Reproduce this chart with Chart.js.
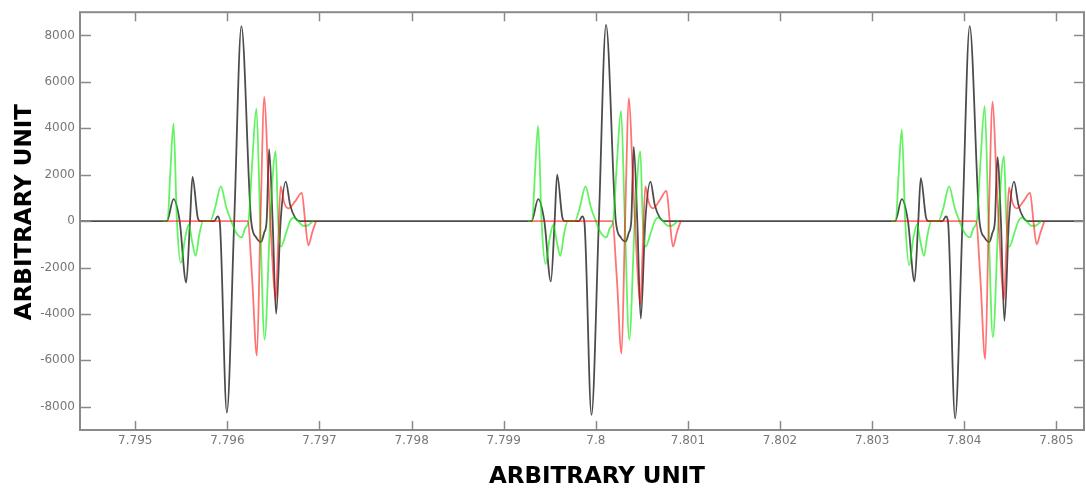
<!DOCTYPE html>
<html>
<head>
<meta charset="utf-8">
<script src="https://cdn.jsdelivr.net/npm/chart.js@4.4.1/dist/chart.umd.min.js"></script>
<style>
  html, body { margin: 0; padding: 0; background: #fff; }
</style>
</head>
<body>
<canvas id="signal" width="1086" height="488"></canvas>
<script>
// x range and ticks
const xMin = 7.7944;
const xMax = 7.8053;
const xTickValues = [7.795, 7.796, 7.797, 7.798, 7.799, 7.8, 7.801, 7.802, 7.803, 7.804, 7.805];
const xTickLabels = ['7.795', '7.796', '7.797', '7.798', '7.799', '7.8', '7.801', '7.802', '7.803', '7.804', '7.805'];
const yTickValues = [-8000, -6000, -4000, -2000, 0, 2000, 4000, 6000, 8000];
const yTickLabels = ['-8000', '-6000', '-4000', '-2000', '0', '2000', '4000', '6000', '8000'];
const axisTitle = 'ARBITRARY UNIT';

// where each burst begins on the x axis
const burstStarts = [7.7952712, 7.7992300, 7.8031779];

// black trace: sample offsets inside a burst (units of 1e-6) and values per burst
const blackTimes = [0, 73, 144, 211, 282, 323, 350, 407, 434, 586, 622, 645, 723, 803, 881, 987, 1041, 1095, 1128, 1155, 1182, 1220, 1258, 1307, 1363, 1410, 1464, 1518];
const blackBurst1 = [0, 0, 950, 0, -2650, 0, 1900, 150, 0, 0, 200, 0, -8250, 0, 8400, 0, -700, -900, -500, 0, 3100, 0, -4000, 0, 1700, 700, 150, 0];
const blackBurst2 = [0, 0, 950, 0, -2600, 0, 2000, 150, 0, 0, 200, 0, -8350, 0, 8450, 0, -700, -880, -500, 0, 3200, 0, -4200, 0, 1700, 700, 150, 0];
const blackBurst3 = [0, 0, 950, 0, -2600, 0, 1850, 150, 0, 0, 200, 0, -8500, 0, 8400, 0, -700, -900, -500, 0, 2750, 0, -4300, 0, 1700, 700, 150, 0];

// green trace
const greenTimes = [33, 79, 108, 144, 181, 224, 271, 309, 347, 385, 423, 466, 542, 597, 658, 716, 770, 824, 886, 922, 958, 998, 1044, 1085, 1133, 1193, 1253, 1280, 1312, 1367, 1410, 1446, 1497, 1551, 1594, 1659];
const greenBurst1 = [0, 0, 2000, 4200, 0, -1800, -700, -150, -900, -1500, -600, 0, 0, 600, 1500, 600, 0, -500, -700, -300, 0, 2500, 4850, 0, -5100, 0, 3000, 0, -1100, -500, 0, 150, 0, -200, -200, 0];
const greenBurst2 = [0, 0, 1950, 4100, 0, -1850, -700, -150, -900, -1500, -600, 0, 0, 600, 1500, 600, 0, -500, -700, -300, 0, 2450, 4750, 0, -5100, 0, 3000, 0, -1100, -500, 0, 150, 0, -200, -200, 0];
const greenBurst3 = [0, 0, 1900, 3950, 0, -1900, -700, -150, -900, -1500, -600, 0, 0, 600, 1500, 600, 0, -500, -700, -300, 0, 2550, 4950, 0, -5000, 0, 2800, 0, -1100, -500, 0, 150, 0, -200, -200, 0];

// red trace
const redTimes = [54, 949, 998, 1049, 1088, 1130, 1171, 1215, 1253, 1280, 1307, 1345, 1392, 1464, 1537, 1573, 1608, 1649, 1692];
const redBurst1 = [0, 0, -2500, -5800, 0, 5350, 2000, -1500, -3400, -1000, 1500, 800, 550, 850, 1220, 0, -1050, -500, 0];
const redBurst2 = [0, 0, -2450, -5700, 0, 5300, 2000, -1600, -3600, -1100, 1500, 800, 550, 900, 1300, 0, -1100, -500, 0];
const redBurst3 = [0, 0, -2550, -5950, 0, 5150, 1900, -1500, -3400, -1000, 1450, 800, 550, 850, 1220, 0, -1000, -500, 0];

// turn offsets + values into {x, y}; a null point between bursts breaks the line
function burstPoints(times, bursts, breakBetween) {
  const pts = [];
  bursts.forEach((vals, b) => {
    times.forEach((t, i) => pts.push({ x: burstStarts[b] + t * 1e-6, y: vals[i] }));
    if (breakBetween) pts.push({ x: burstStarts[b] + times[times.length - 1] * 1e-6 + 1e-6, y: null });
  });
  return pts;
}

const blackPoints = [{ x: xMin, y: 0 }]
  .concat(burstPoints(blackTimes, [blackBurst1, blackBurst2, blackBurst3], false))
  .concat([{ x: xMax, y: 0 }]);
const greenPoints = burstPoints(greenTimes, [greenBurst1, greenBurst2, greenBurst3], true);
const redPoints = burstPoints(redTimes, [redBurst1, redBurst2, redBurst3], true);

// box around the plot with ticks pointing inwards on all four sides,
// plus the two axis titles
const frameTicks = {
  id: 'frameTicks',
  afterDatasetsDraw(chart) {
    const { ctx, chartArea: a, scales: { x, y } } = chart;
    ctx.save();
    ctx.strokeStyle = '#8a8a8a';
    ctx.lineWidth = 2;
    ctx.strokeRect(a.left, a.top, a.right - a.left, a.bottom - a.top);
    ctx.lineWidth = 1.5;
    ctx.beginPath();
    x.ticks.forEach(t => {
      const px = Math.round(x.getPixelForValue(t.value)) + 0.5;
      ctx.moveTo(px, a.bottom); ctx.lineTo(px, a.bottom - 9);
      ctx.moveTo(px, a.top); ctx.lineTo(px, a.top + 9);
    });
    y.ticks.forEach(t => {
      const py = Math.round(y.getPixelForValue(t.value)) + 0.5;
      ctx.moveTo(a.left, py); ctx.lineTo(a.left + 11, py);
      ctx.moveTo(a.right, py); ctx.lineTo(a.right - 10, py);
    });
    ctx.stroke();

    ctx.fillStyle = '#000';
    ctx.font = 'bold 23px "DejaVu Sans"';
    ctx.textAlign = 'center';
    ctx.textBaseline = 'middle';
    const cx = (a.left + a.right) / 2;
    const cy = (a.top + a.bottom) / 2;
    ctx.fillText(axisTitle, cx + 15, a.bottom + 47);
    ctx.translate(25, cy - 9);
    ctx.rotate(-Math.PI / 2);
    ctx.fillText(axisTitle, 0, 0);
    ctx.restore();
  }
};

const tickFont = { family: 'DejaVu Sans', size: 12 };

new Chart(document.getElementById('signal'), {
  type: 'line',
  data: {
    datasets: [
      { label: 'red', data: redPoints, borderColor: 'rgba(255,0,0,0.55)', borderWidth: 1.8 },
      { label: 'green', data: greenPoints, borderColor: 'rgba(0,235,0,0.62)', borderWidth: 1.8 },
      { label: 'black', data: blackPoints, borderColor: 'rgba(25,25,25,0.78)', borderWidth: 1.8 }
    ]
  },
  options: {
    responsive: false,
    animation: false,
    spanGaps: false,
    layout: { padding: { top: 12, right: 2, left: 0, bottom: 0 } },
    elements: {
      point: { radius: 0 },
      line: { cubicInterpolationMode: 'monotone', fill: false }
    },
    plugins: { legend: { display: false }, tooltip: { enabled: false } },
    scales: {
      x: {
        type: 'linear',
        min: xMin,
        max: xMax,
        afterBuildTicks: s => { s.ticks = xTickValues.map(v => ({ value: v })); },
        afterFit: s => { s.height = 58; },
        ticks: {
          callback: (v, i) => xTickLabels[i],
          color: '#777',
          font: tickFont,
          padding: 4,
          maxRotation: 0,
          autoSkip: false
        },
        grid: { display: false, drawTicks: false },
        border: { display: false }
      },
      y: {
        type: 'linear',
        min: -9000,
        max: 9000,
        afterBuildTicks: s => { s.ticks = yTickValues.map(v => ({ value: v })); },
        afterFit: s => { s.width = 80; },
        ticks: {
          callback: (v, i) => yTickLabels[i],
          color: '#777',
          font: tickFont,
          padding: 5,
          autoSkip: false
        },
        grid: { display: false, drawTicks: false },
        border: { display: false }
      }
    }
  },
  plugins: [frameTicks]
});
</script>
</body>
</html>
